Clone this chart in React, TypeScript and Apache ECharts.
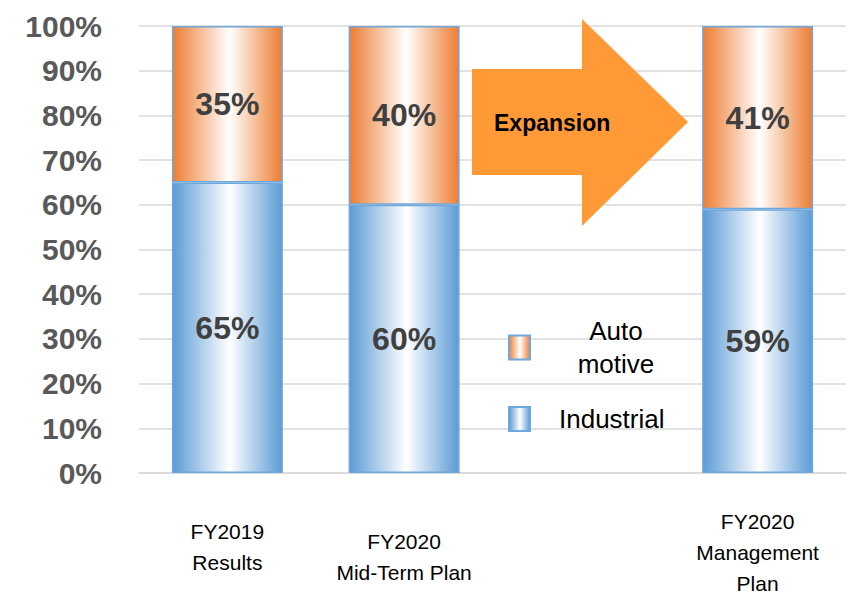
import React, { useEffect, useRef } from "react";
import * as echarts from "echarts";

const categories = ["FY2019\nResults", "FY2020\nMid-Term Plan", "", "FY2020\nManagement\nPlan"];
const industrial = [65, 60, null, 59];
const automotive = [35, 40, null, 41];
const seriesNames = ["Industrial", "Automotive"];
const arrowText = "Expansion";

const FONT = "Liberation Sans";

export default function App() {
  const ref = useRef<HTMLDivElement>(null);
  useEffect(() => {
    document.body.style.margin = "0";
    const chart = echarts.init(ref.current!, null, { renderer: "svg" });
    const grad = (c: string) =>
      new echarts.graphic.LinearGradient(0, 0, 1, 0, [
        { offset: 0, color: c },
        { offset: 0.52, color: "#FFFFFF" },
        { offset: 1, color: c },
      ]);
    const spacer = [10, 20, 0, 0];
    const labelStyle = {
      show: true,
      position: "inside",
      formatter: "{c}%",
      fontFamily: FONT,
      fontWeight: "bold",
      fontSize: 32,
      color: "#404040",
    };
    const option: any = {
      animation: false,
      grid: { left: 139, top: 26, width: 707, height: 451 },
      legend: [
        {
          data: [seriesNames[1]],
          orient: "vertical",
          icon: "rect",
          left: 508,
          top: 318,
          padding: 0,
          itemWidth: 21,
          itemHeight: 24,
          formatter: () => "{a|Auto}\n{a|motive}",
          textStyle: {
            rich: {
              a: { width: 162, align: "center", fontSize: 26, lineHeight: 33, fontFamily: FONT, color: "#000" },
            },
          },
        },
        {
          data: [seriesNames[0]],
          orient: "vertical",
          icon: "rect",
          left: 508,
          top: 406,
          padding: 0,
          itemWidth: 21,
          itemHeight: 24,
          formatter: (n: string) => `{b|${n}}`,
          textStyle: {
            rich: {
              b: { padding: [0, 0, 0, 24], fontSize: 26, lineHeight: 33, fontFamily: FONT, color: "#000" },
            },
          },
        },
      ],
      xAxis: {
        type: "category",
        data: categories,
        axisLine: { lineStyle: { color: "#D9D9D9", width: 1.5 } },
        axisTick: { show: false },
        axisLabel: {
          interval: 0,
          margin: 33,
          verticalAlign: "top",
          formatter: (v: string, i: number) => {
            if (!v) return "";
            const lines = v.split("\n").map((l) => `{t|${l}}`).join("\n");
            return spacer[i] ? `{s${i}| }\n${lines}` : lines;
          },
          rich: {
            t: { fontSize: 21, lineHeight: 31, fontFamily: FONT, color: "#000" },
            s0: { fontSize: 1, lineHeight: spacer[0] },
            s1: { fontSize: 1, lineHeight: spacer[1] },
          },
        },
      },
      yAxis: {
        type: "value",
        min: 0,
        max: 100,
        interval: 10,
        axisLine: { show: false },
        axisTick: { show: false },
        splitLine: { lineStyle: { color: "#D9D9D9", width: 1.5 } },
        axisLabel: {
          formatter: "{value}%",
          margin: 37,
          fontFamily: FONT,
          fontWeight: "bold",
          fontSize: 30,
          color: "#595959",
        },
      },
      series: [
        {
          name: seriesNames[0],
          type: "bar",
          stack: "total",
          barWidth: 111,
          data: industrial,
          itemStyle: { color: grad("#5B9BD5"), borderColor: "#6FA8DC", borderWidth: 1.5 },
          label: labelStyle,
        },
        {
          name: seriesNames[1],
          type: "bar",
          stack: "total",
          barWidth: 111,
          data: automotive,
          itemStyle: { color: grad("#ED7D31"), borderColor: "#6FA8DC", borderWidth: 1.5 },
          label: labelStyle,
        },
      ],
      graphic: [
        {
          type: "polygon",
          z: 100,
          shape: {
            points: [
              [472, 69],
              [582, 69],
              [582, 19],
              [688, 122],
              [582, 226],
              [582, 175],
              [472, 175],
            ],
          },
          style: { fill: "#FF9A36" },
        },
        {
          type: "text",
          z: 101,
          x: 494,
          y: 123,
          style: {
            text: arrowText,
            fontFamily: FONT,
            fontWeight: "bold",
            fontSize: 23,
            fill: "#000",
            verticalAlign: "middle",
          },
        },
      ],
    };
    chart.setOption(option);
    return () => chart.dispose();
  }, []);
  return <div ref={ref} style={{ width: 853, height: 594 }} />;
}
